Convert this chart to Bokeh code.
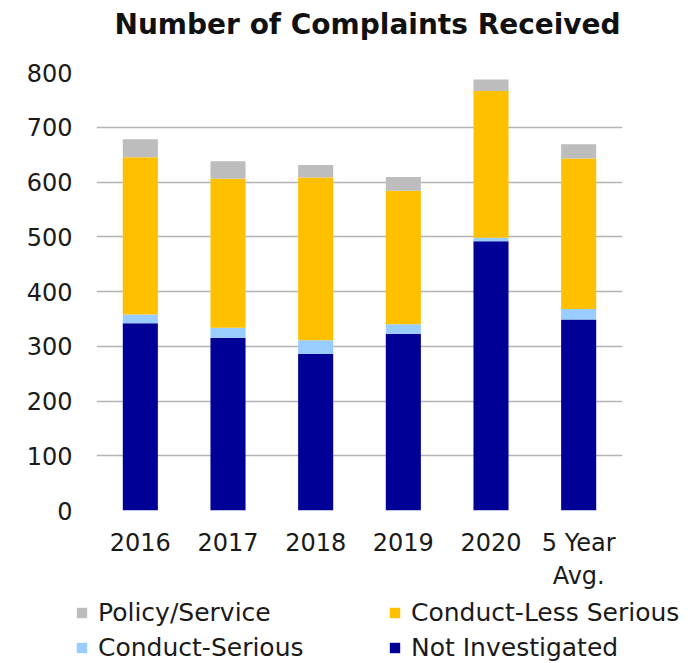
from bokeh.plotting import figure
from bokeh.models import ColumnDataSource, Legend, LegendItem, FixedTicker, Range1d, FactorRange
from bokeh.embed import file_html
from bokeh.resources import INLINE

categories = ["2016", "2017", "2018", "2019", "2020", "5 Year\nAvg."]
not_investigated = [342, 315, 286, 323, 492, 349]
conduct_serious = [16, 19, 25, 17, 6, 19]
conduct_less_serious = [287, 272, 297, 244, 268, 275]
policy_service = [33, 32, 23, 25, 21, 26]
y_ticks = [0, 100, 200, 300, 400, 500, 600, 700, 800]

series = ["not_investigated", "conduct_serious", "conduct_less_serious", "policy_service"]
labels = ["Not Investigated", "Conduct-Serious", "Conduct-Less Serious", "Policy/Service"]
colors = ["#000096", "#99CCFF", "#FFC000", "#BDBDBD"]

source = ColumnDataSource(data=dict(
    cat=categories,
    not_investigated=not_investigated,
    conduct_serious=conduct_serious,
    conduct_less_serious=conduct_less_serious,
    policy_service=policy_service,
))

FONT = "DejaVu Sans"
TXT = "#1a1a1a"

# title strip (separate root)
tf = figure(width=694, height=50, x_range=Range1d(0, 1), y_range=Range1d(0, 1),
            output_backend="svg", toolbar_location=None,
            x_axis_type=None, y_axis_type=None,
            min_border_left=0, min_border_right=0, min_border_top=0, min_border_bottom=0)
tf.outline_line_color = None
tf.xgrid.grid_line_color = None
tf.ygrid.grid_line_color = None
tf.title.text = "Number of Complaints Received"
tf.title.text_font = FONT
tf.title.text_font_size = "28px"
tf.title.text_font_style = "bold"
tf.title.text_color = "#111111"
tf.title.align = "left"
tf.title.offset = 114
tf.title.vertical_align = "top"
tf.title.standoff = 14

# main chart
p = figure(width=694, height=543, x_range=FactorRange(*categories, range_padding=0),
           y_range=Range1d(0, 800), output_backend="svg", toolbar_location=None,
           min_border_left=96, min_border_right=72, min_border_top=22, min_border_bottom=76)

p.vbar_stack(series, x="cat", width=0.4, color=colors, line_color=None, source=source)

p.outline_line_color = None
p.xgrid.grid_line_color = None
p.ygrid.grid_line_color = "#b4b4b4"
p.ygrid.grid_line_width = 1.6
p.yaxis.ticker = FixedTicker(ticks=y_ticks)

for ax in (p.xaxis[0], p.yaxis[0]):
    ax.axis_line_color = None
    ax.major_tick_line_color = None
    ax.minor_tick_line_color = None
    ax.major_tick_out = 0
    ax.major_tick_in = 0
    ax.major_label_text_font = FONT
    ax.major_label_text_font_size = "24px"
    ax.major_label_text_color = TXT

p.yaxis.major_label_standoff = 24
p.xaxis.major_label_standoff = 18

# legend strip (separate root; its renderers are hidden, only the legend shows)
lg = figure(width=694, height=70, x_range=FactorRange(*categories, range_padding=0),
            y_range=Range1d(0, 800), output_backend="svg", toolbar_location=None,
            x_axis_type=None, y_axis_type=None,
            min_border_left=0, min_border_right=0, min_border_top=0, min_border_bottom=0)
lg.outline_line_color = None
lg.xgrid.grid_line_color = None
lg.ygrid.grid_line_color = None
lr = lg.vbar_stack(series, x="cat", width=0.4, color=colors, line_color=None, source=source)
for r in lr:
    r.visible = False

legend = Legend(
    items=[
        LegendItem(label=labels[3], renderers=[lr[3]]),
        LegendItem(label=labels[2], renderers=[lr[2]]),
        LegendItem(label=labels[1], renderers=[lr[1]]),
        LegendItem(label=labels[0], renderers=[lr[0]]),
    ],
    location=(75, 1), orientation="horizontal", ncols=2,
    glyph_width=13, glyph_height=13, label_standoff=10, label_width=284,
    spacing=6, padding=0, margin=0, border_line_color=None, background_fill_alpha=0,
    inactive_fill_alpha=0,
    label_text_font=FONT, label_text_font_size="25px", label_text_color=TXT,
)
lg.add_layout(legend)

open("out.html", "w").write(file_html([tf, p, lg], INLINE))
